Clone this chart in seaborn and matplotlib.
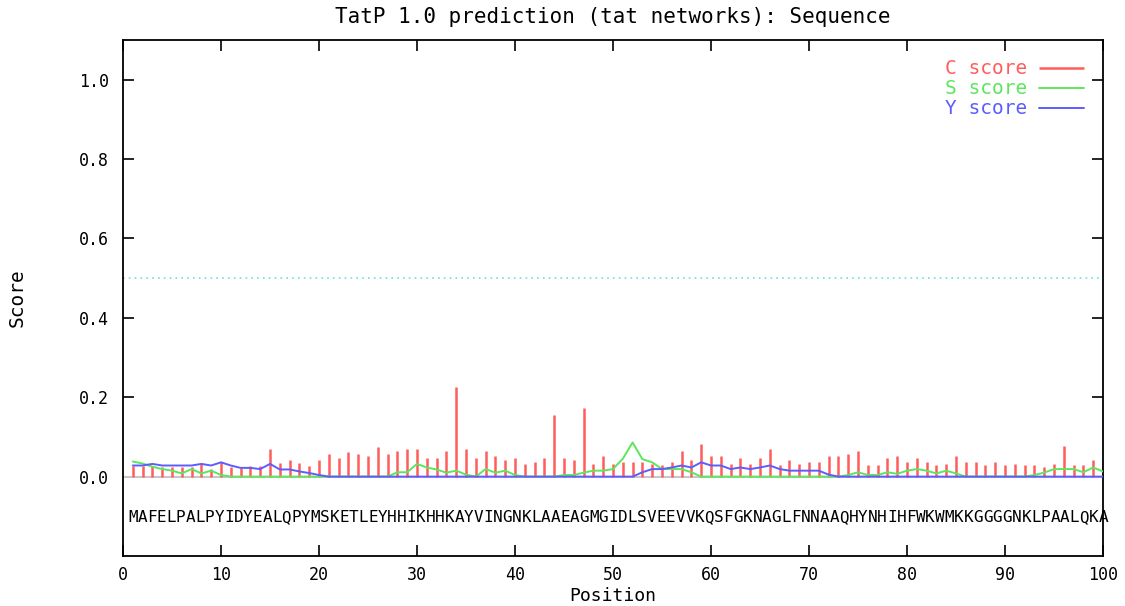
import numpy as np
import pandas as pd
import matplotlib
matplotlib.use("Agg")
import matplotlib.pyplot as plt
import seaborn as sns

# ---------------- data ----------------
positions = list(range(1, 101))

c_score = [0.028, 0.028, 0.026, 0.023, 0.025, 0.025, 0.025, 0.032, 0.020, 0.038,
           0.025, 0.022, 0.028, 0.028, 0.069, 0.034, 0.042, 0.034, 0.028, 0.042,
           0.057, 0.047, 0.061, 0.057, 0.052, 0.074, 0.057, 0.065, 0.069, 0.069,
           0.047, 0.047, 0.065, 0.226, 0.069, 0.047, 0.065, 0.052, 0.042, 0.047,
           0.033, 0.038, 0.047, 0.155, 0.047, 0.042, 0.172, 0.033, 0.052, 0.033,
           0.038, 0.038, 0.036, 0.033, 0.029, 0.038, 0.064, 0.042, 0.082, 0.052,
           0.052, 0.033, 0.047, 0.033, 0.047, 0.069, 0.029, 0.042, 0.033, 0.038,
           0.038, 0.052, 0.052, 0.057, 0.065, 0.029, 0.029, 0.047, 0.052, 0.038,
           0.047, 0.038, 0.029, 0.033, 0.052, 0.038, 0.038, 0.029, 0.038, 0.029,
           0.033, 0.029, 0.029, 0.025, 0.033, 0.078, 0.029, 0.029, 0.042, 0.042]

s_score = [0.038, 0.033, 0.025, 0.019, 0.015, 0.008, 0.019, 0.008, 0.015, 0.004,
           0.000, 0.000, 0.000, 0.000, 0.000, 0.000, 0.000, 0.000, 0.000, 0.000,
           0.000, 0.000, 0.000, 0.000, 0.000, 0.000, 0.000, 0.011, 0.011, 0.032,
           0.023, 0.018, 0.010, 0.015, 0.005, 0.000, 0.019, 0.010, 0.015, 0.004,
           0.000, 0.000, 0.000, 0.000, 0.004, 0.004, 0.010, 0.015, 0.015, 0.019,
           0.045, 0.086, 0.044, 0.036, 0.019, 0.019, 0.019, 0.011, 0.000, 0.000,
           0.000, 0.000, 0.000, 0.000, 0.000, 0.000, 0.000, 0.000, 0.000, 0.000,
           0.000, 0.000, 0.000, 0.004, 0.011, 0.004, 0.004, 0.011, 0.007, 0.015,
           0.019, 0.015, 0.008, 0.015, 0.008, 0.000, 0.000, 0.000, 0.000, 0.000,
           0.000, 0.000, 0.004, 0.010, 0.019, 0.019, 0.019, 0.011, 0.023, 0.013]

y_score = [0.028, 0.028, 0.032, 0.028, 0.028, 0.028, 0.028, 0.032, 0.028, 0.036,
           0.028, 0.022, 0.022, 0.019, 0.032, 0.018, 0.018, 0.013, 0.009, 0.004,
           0.000, 0.000, 0.000, 0.000, 0.000, 0.000, 0.000, 0.000, 0.000, 0.000,
           0.000, 0.000, 0.000, 0.000, 0.000, 0.000, 0.000, 0.000, 0.000, 0.000,
           0.000, 0.000, 0.000, 0.000, 0.000, 0.000, 0.000, 0.000, 0.000, 0.000,
           0.000, 0.000, 0.011, 0.019, 0.019, 0.023, 0.028, 0.023, 0.036, 0.028,
           0.028, 0.019, 0.023, 0.019, 0.023, 0.028, 0.019, 0.015, 0.015, 0.015,
           0.015, 0.005, 0.000, 0.000, 0.000, 0.000, 0.000, 0.000, 0.000, 0.000,
           0.000, 0.000, 0.000, 0.000, 0.000, 0.000, 0.000, 0.000, 0.000, 0.000,
           0.000, 0.000, 0.000, 0.000, 0.000, 0.000, 0.000, 0.000, 0.000, 0.000]

sequence = "MAFELPALPYIDYEALQPYMSKETLEYHHIKHHKAYVINGNKLAAEAGMGIDLSVEEVVKQSFGKNAGLFNNAAQHYNHIHFWKWMKKGGGGNKLPAALQKA"

cutoff = 0.5
x_ticks = list(range(0, 101, 10))
y_ticks = [0.0, 0.2, 0.4, 0.6, 0.8, 1.0]

title = "TatP 1.0 prediction (tat networks): Sequence"

# ---------------- style ----------------
sns.set_theme(style="white")
plt.rcParams["font.family"] = ["DejaVu Sans Mono", "DejaVu Sans"]
plt.rcParams["text.color"] = "black"
plt.rcParams["axes.labelcolor"] = "black"
plt.rcParams["xtick.color"] = "black"
plt.rcParams["ytick.color"] = "black"

RED = "#ff5c5c"
GREEN = "#5ce65c"
BLUE = "#5c5cff"
CYAN = "#66e0e0"

df = pd.DataFrame({"pos": positions, "C": c_score, "S": s_score, "Y": y_score})

fig = plt.figure(figsize=(11.25, 6.06), dpi=100)
ax = fig.add_axes([123 / 1125, 1 - 556 / 606, (1103 - 123) / 1125, (556 - 40) / 606])

# zero line and cutoff
ax.axhline(0, color="#c8c8c8", lw=1.5, zorder=1)
ax.axhline(cutoff, color=CYAN, lw=1.2, ls=(0, (1, 2.5)), zorder=1)

# C score bars
ax.vlines(df["pos"], 0, df["C"], color=RED, lw=1.8, label="C score", zorder=2)
# S and Y lines
sns.lineplot(data=df, x="pos", y="S", color=GREEN, lw=1.4, ax=ax, label="S score", zorder=3)
sns.lineplot(data=df, x="pos", y="Y", color=BLUE, lw=1.4, ax=ax, label="Y score", zorder=4)

# sequence letters
n = len(sequence)
step = 100.0 / n
for i, ch in enumerate(sequence):
    ax.text(0.5 + (i + 0.5) * step, -0.103, ch, ha="center", va="center",
            fontsize=11.5, family="DejaVu Sans Mono", color="black")

ax.set_xlim(0, 100)
ax.set_ylim(-0.2, 1.1)
ax.set_xticks(x_ticks)
ax.set_yticks(y_ticks)
ax.set_xticklabels([str(t) for t in x_ticks], fontsize=12)
ax.set_yticklabels([f"{t:.1f}" for t in y_ticks], fontsize=12)
ax.tick_params(axis="both", direction="in", length=8, width=1.2,
               top=True, right=True, bottom=True, left=True, colors="black",
               labelcolor="black", pad=10)
ax.tick_params(axis="x", pad=7)
for sp in ax.spines.values():
    sp.set_color("black")
    sp.set_linewidth(1.3)

ax.set_xlabel("Position", fontsize=13, color="black")
ax.xaxis.label.set_va("center")
ax.xaxis.set_label_coords(0.5, -40 / 516)
ax.set_ylabel("Score", fontsize=14, labelpad=38, color="black")
ax.set_title(title, fontsize=15, pad=12, color="black")

leg = ax.legend(loc="upper right", markerfirst=False,
                frameon=False, fontsize=14, handlelength=2.3, handletextpad=0.6,
                labelspacing=0.05, borderaxespad=0.6)
for txt, col in zip(leg.get_texts(), [RED, GREEN, BLUE]):
    txt.set_color(col)

fig.savefig("out.png", dpi=100, facecolor="white")
